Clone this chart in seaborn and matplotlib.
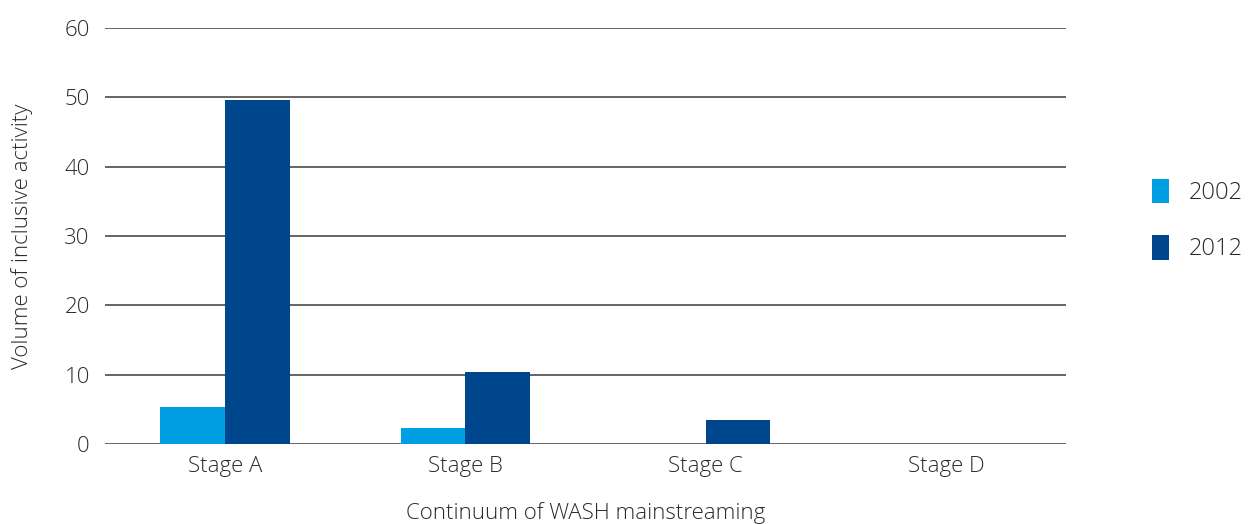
"""
    Bar chart of inclusive WASH activity per mainstreaming stage,
    comparing 2002 and 2012.
"""
import matplotlib
matplotlib.use('Agg')
import matplotlib.pyplot as plt
import seaborn as sns
import pandas as pd
from matplotlib.patches import Patch

stages = ['Stage A', 'Stage B', 'Stage C', 'Stage D']
values_2002 = [5.3, 2.3, 0, 0]
values_2012 = [49.6, 10.4, 3.5, 0]
years = ['2002', '2012']
colors = ['#009FE3', '#00468C']

ylabel = 'Volume of inclusive activity'
xlabel = 'Continuum of WASH mainstreaming'
txt = '#2b2b2b'

sns.set_style('white')
plt.rcParams['font.family'] = ['Open Sans', 'DejaVu Sans']

data = pd.DataFrame({
    'stage': stages * 2,
    'year': [years[0]] * 4 + [years[1]] * 4,
    'value': values_2002 + values_2012,
})

fig = plt.figure(figsize=(12.52, 5.24), dpi=100)
ax = fig.add_axes([0.0839, 0.1527, 0.7675, 0.7939])

sns.barplot(data=data, x='stage', y='value', hue='year', palette=colors,
            width=0.54, gap=0, saturation=1, legend=False, linewidth=0,
            ax=ax)

ax.set_ylim(0, 60)
ax.set_yticks(range(0, 61, 10))
ax.set_xlim(-0.5, 3.5)
ax.yaxis.grid(True, color='#3a3a3a', linewidth=1.1)
ax.set_axisbelow(True)
for s in ax.spines.values():
    s.set_visible(False)
ax.tick_params(axis='y', length=0, labelsize=16, colors=txt, pad=11)
ax.tick_params(axis='x', length=0, labelsize=16, colors=txt, pad=9)
for lab in ax.get_xticklabels() + ax.get_yticklabels():
    lab.set_fontweight('light')
ax.set_ylabel(ylabel, fontsize=16, color=txt, fontweight='light')
ax.set_xlabel(xlabel, fontsize=16, color=txt, fontweight='light')
ax.yaxis.set_label_coords(-0.075, 0.5)
ax.xaxis.set_label_coords(0.5, -0.139)

handles = [Patch(facecolor=c, edgecolor='none') for c in colors]
fig.legend(handles, years, loc='center left', bbox_to_anchor=(0.903, 0.58),
           frameon=False, prop={'size': 17, 'weight': 'light'},
           handlelength=0.72, handleheight=1.2, labelspacing=1.3,
           handletextpad=0.85, labelcolor=txt)

fig.savefig('out.png', dpi=100)
